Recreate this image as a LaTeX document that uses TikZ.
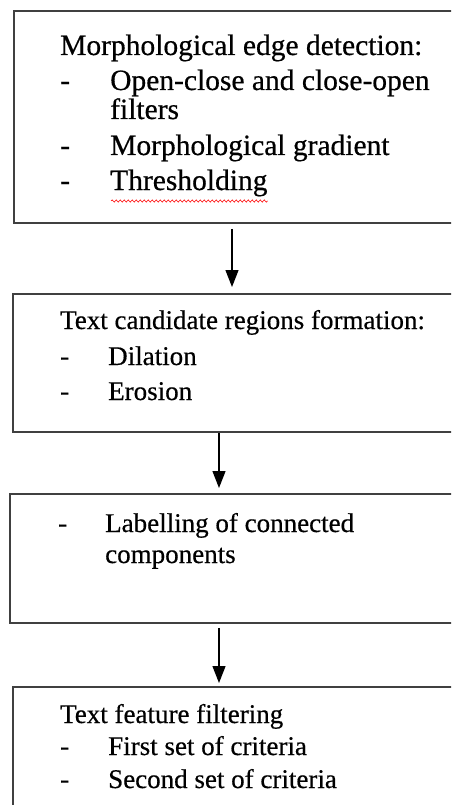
\documentclass[tikz,border=0pt]{standalone}
\usepackage{fontspec}
\setmainfont{Liberation Serif}[FakeBold=0.5]
\usetikzlibrary{arrows.meta,decorations.pathmorphing,calc}
\begin{document}
\begin{tikzpicture}[x=1pt,y=-1pt,
  box/.style={draw=black!75,line width=1.8pt,rectangle,inner sep=0pt,anchor=north west},
  big/.style={anchor=base west,inner sep=0pt,font=\fontsize{29.5}{33}\selectfont},
  txt/.style={anchor=base west,inner sep=0pt,font=\fontsize{27}{30}\selectfont},
  arr/.style={line width=1.3pt,-{Triangle[width=13pt,length=17pt]}}]
\path[use as bounding box, clip] (0,0) rectangle (451,805);

% boxes (extend past the right/bottom edge, clipped)
\node[box, minimum width=460pt, minimum height=212pt] (b1) at (13,10) {};
\node[box, minimum width=460pt, minimum height=138pt] (b2) at (12,293) {};
\node[box, minimum width=460pt, minimum height=129pt] (b3) at (9,493) {};
\node[box, minimum width=460pt, minimum height=150pt] (b4) at (12,686) {};

% box 1 text
\node[big] (h1)  at (60,55)  {Morphological edge detection:};
\node[big] (d11) at (60,90)  {-};
\node[big] (i11) at (110,90) {Open-close and close-open};
\node[big] (i11b) at (110,119) {filters};
\node[big] (d12) at (60,155) {-};
\node[big] (i12) at (110,155) {Morphological gradient};
\node[big] (d13) at (60,190) {-};
\node[big] (i13) at (110,190) {Thresholding};
\draw[red, line width=0.6pt, decorate, decoration={snake,amplitude=1.1pt,segment length=4pt}]
  ($(i13.base west)+(1,11)$) -- ($(i13.base east)+(0,11)$);

% box 2 text
\node[txt] (h2)  at (60,329)  {Text candidate regions formation:};
\node[txt] (d21) at (60,365)  {-};
\node[txt] (i21) at (108,365) {Dilation};
\node[txt] (d22) at (60,400)  {-};
\node[txt] (i22) at (108,400) {Erosion};

% box 3 text
\node[txt] (d31) at (58,532)  {-};
\node[txt] (i31) at (105,532) {Labelling of connected};
\node[txt] (i31b) at (105,563) {components};

% box 4 text
\node[txt] (h4)  at (60,723)  {Text feature filtering};
\node[txt] (d41) at (60,755)  {-};
\node[txt] (i41) at (108,755) {First set of criteria};
\node[txt] (d42) at (60,788)  {-};
\node[txt] (i42) at (108,788) {Second set of criteria};

% arrows
\coordinate (ax1) at (232,0);
\coordinate (ax2) at (219,0);
\draw[arr] ($(b1.south -| ax1)+(0,5)$) -- ($(b2.north -| ax1)+(0,-6)$);
\draw[arr] (b2.south -| ax2) -- ($(b3.north -| ax2)+(0,-5)$);
\draw[arr] ($(b3.south -| ax2)+(0,4)$) -- ($(b4.north -| ax2)+(0,-3)$);
\end{tikzpicture}
\end{document}
